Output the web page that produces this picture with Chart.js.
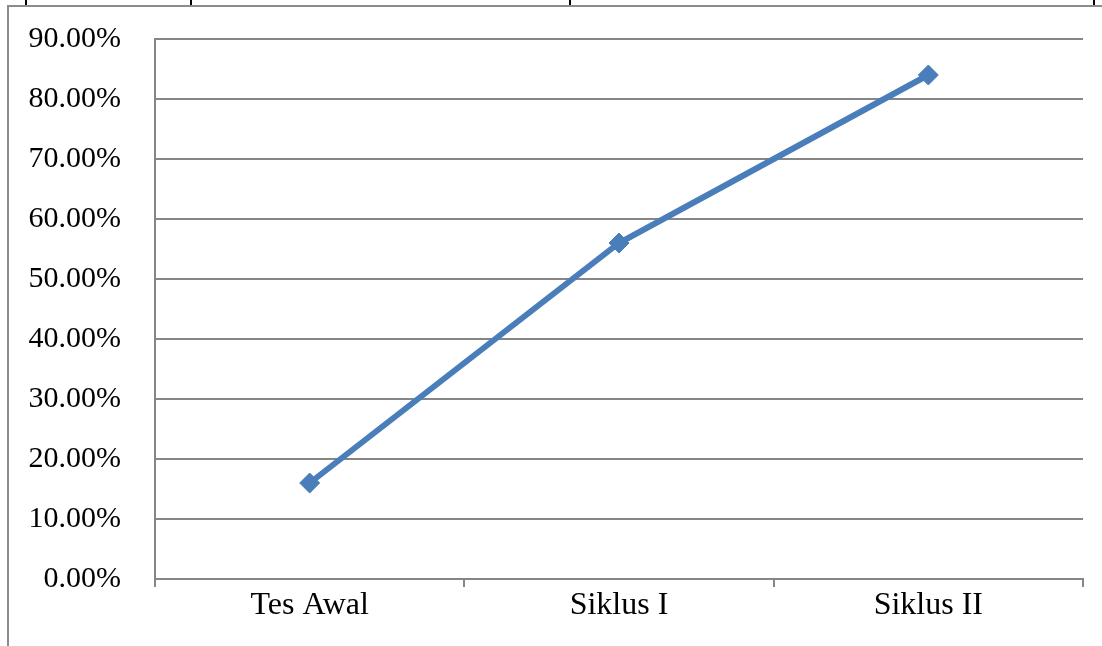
<!DOCTYPE html>
<html>
<head>
<meta charset="utf-8">
<script src="https://cdn.jsdelivr.net/npm/chart.js@4/dist/chart.umd.min.js"></script>
<style>
  html, body { margin: 0; padding: 0; background: #fff; }
  #wrap { position: relative; width: 1102px; height: 646px; overflow: hidden; }
  #chart { position: absolute; left: 0; top: 0; }
  .frame-top { position: absolute; left: 8px; top: 5px; width: 1094px; height: 2px; background: #8c8c8c; }
  .frame-left { position: absolute; left: 7px; top: 5px; width: 2px; height: 641px; background: #8c8c8c; }
  .cell { position: absolute; top: 0; width: 2px; height: 5px; background: #000; }
</style>
</head>
<body>
<div id="wrap">
  <canvas id="chart" width="1102" height="646"></canvas>
  <div class="frame-top"></div>
  <div class="frame-left"></div>
  <div class="cell" style="left:25px"></div>
  <div class="cell" style="left:190px"></div>
  <div class="cell" style="left:569px"></div>
  <div class="cell" style="left:1093px"></div>
</div>
<script>
const categories = ['Tes Awal', 'Siklus I', 'Siklus II']
const values = [16, 56, 84]
const yMax = 90
const yStep = 10

const gridColor = '#868686'
const lineColor = '#4a7ebb'
const family = '"Liberation Serif", "Times New Roman", serif'

const ctx = document.getElementById('chart')

new Chart(ctx, {
  type: 'line',
  data: {
    labels: categories,
    datasets: [{
      data: values,
      borderColor: lineColor,
      backgroundColor: lineColor,
      borderWidth: 6,
      tension: 0,
      pointStyle: 'rectRot',
      pointRadius: 10,
      pointBorderWidth: 1,
      pointBackgroundColor: lineColor,
      pointBorderColor: lineColor
    }]
  },
  options: {
    responsive: false,
    animation: false,
    devicePixelRatio: 1,
    layout: { padding: { left: 0, top: 39, right: 19, bottom: 0 } },
    plugins: { legend: { display: false }, tooltip: { enabled: false } },
    scales: {
      x: {
        offset: true,
        grid: { offset: true, drawOnChartArea: false, drawTicks: true, tickLength: 8, color: gridColor, lineWidth: 2 },
        border: { display: true, color: gridColor, width: 2 },
        ticks: { color: '#000', font: { family: family, size: 32 }, padding: -1, maxRotation: 0 },
        afterFit: (scale) => { scale.height = 67 }
      },
      y: {
        min: 0,
        max: yMax,
        grid: { drawTicks: false, color: gridColor, lineWidth: 2 },
        border: { display: true, color: gridColor, width: 2 },
        ticks: {
          stepSize: yStep,
          color: '#000',
          font: { family: family, size: 30 },
          padding: 34,
          callback: (v) => v.toFixed(2) + '%'
        },
        afterFit: (scale) => {
          scale.width = 155
          scale.paddingTop = 0
          scale.paddingBottom = 0
        }
      }
    }
  }
})
</script>
</body>
</html>
